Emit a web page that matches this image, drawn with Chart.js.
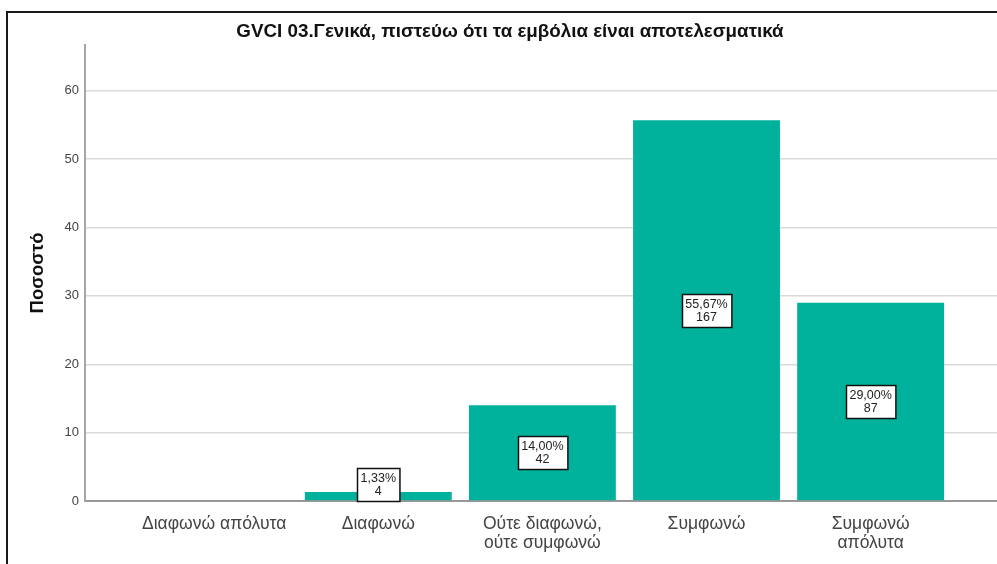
<!DOCTYPE html>
<html>
<head>
<meta charset="utf-8">
<script src="https://cdn.jsdelivr.net/npm/chart.js@4/dist/chart.umd.min.js"></script>
<style>
  html, body { margin: 0; padding: 0; background: #fff; overflow: hidden; }
  #wrap { position: relative; width: 997px; height: 564px; }
  #frame { position: absolute; left: 6px; top: 11px; right: -10px; bottom: -10px;
           border-top: 2px solid #1a1a1a; border-left: 2px solid #1a1a1a; pointer-events: none; }
  canvas { display: block; }
</style>
</head>
<body>
<div id="wrap">
  <canvas id="chart" width="997" height="564"></canvas>
  <div id="frame"></div>
</div>
<script>
// values
var categories = ['Διαφωνώ απόλυτα', 'Διαφωνώ', ['Ούτε διαφωνώ,', 'ούτε συμφωνώ'], 'Συμφωνώ', ['Συμφωνώ', 'απόλυτα']];
var percentages = [0, 1.33, 14.00, 55.67, 29.00];
var counts = [0, 4, 42, 167, 87];
var chartTitle = 'GVCI 03.Γενικά, πιστεύω ότι τα εμβόλια είναι αποτελεσματικά';
var yTitle = 'Ποσοστό';

var font = '"Liberation Sans", Arial, sans-serif';
var barColor = '#00b29c';

// boxed "xx,xx% / n" labels in the middle of each bar
var valueLabels = {
  id: 'valueLabels',
  afterDatasetsDraw: function (chart) {
    var ctx = chart.ctx;
    var meta = chart.getDatasetMeta(0);
    var bottom = chart.scales.y.getPixelForValue(0);
    ctx.save();
    ctx.font = '12.5px ' + font;
    ctx.textAlign = 'center';
    ctx.textBaseline = 'middle';
    meta.data.forEach(function (bar, i) {
      if (!counts[i]) return;
      var line1 = percentages[i].toFixed(2).replace('.', ',') + '%';
      var line2 = String(counts[i]);
      var w = Math.max(ctx.measureText(line1).width, ctx.measureText(line2).width) + 7;
      var h = 33;
      var cy = Math.min((bar.y + bar.base) / 2, bottom - h / 2);
      var x0 = Math.round(bar.x - w / 2) + 0.5;
      var y0 = Math.round(cy - h / 2) + 0.5;
      ctx.fillStyle = '#fff';
      ctx.fillRect(x0, y0, w, h);
      ctx.lineWidth = 1.5;
      ctx.strokeStyle = '#111';
      ctx.strokeRect(x0, y0, w, h);
      ctx.fillStyle = '#222';
      ctx.fillText(line1, bar.x, cy - 6);
      ctx.fillText(line2, bar.x, cy + 7);
    });
    ctx.restore();
  }
};

var ctx = document.getElementById('chart').getContext('2d');
new Chart(ctx, {
  type: 'bar',
  data: {
    datasets: [{
      label: yTitle,
      data: percentages.map(function (v, i) { return { x: i, y: v }; }),
      backgroundColor: barColor,
      borderWidth: 0,
      categoryPercentage: 1,
      barPercentage: 0.895
    }]
  },
  options: {
    responsive: false,
    animation: false,
    devicePixelRatio: 1,
    layout: { padding: { left: 23, right: 0, top: 20.5, bottom: 0 } },
    plugins: {
      legend: { display: false },
      tooltip: { enabled: false },
      title: {
        display: true,
        text: chartTitle,
        color: '#111',
        font: { family: font, size: 18.8, weight: 'bold', lineHeight: 1.2 },
        padding: { top: 0, bottom: 1.9 }
      }
    },
    scales: {
      x: {
        type: 'linear',
        offset: false,
        min: -0.787,
        max: 4.77,
        grid: { display: false },
        border: { display: true, color: '#999', width: 2 },
        afterFit: function (scale) { scale.height = 63; },
        ticks: {
          stepSize: 1,
          includeBounds: false,
          autoSkip: false,
          maxRotation: 0,
          padding: 6,
          color: '#444',
          font: { family: font, size: 17.5, lineHeight: 1.09 },
          callback: function (value) {
            return Number.isInteger(value) && categories[value] !== undefined ? categories[value] : '';
          }
        }
      },
      y: {
        min: 0,
        max: 66.7,
        grid: { color: '#d9d9d9', lineWidth: 1.5, drawTicks: false },
        border: { display: true, color: '#a6a6a6', width: 2 },
        afterFit: function (scale) { scale.width = 62; },
        title: {
          display: true,
          text: yTitle,
          color: '#111',
          font: { family: font, size: 18.5, weight: 'bold' },
          padding: { top: 4, bottom: 0 }
        },
        ticks: {
          stepSize: 10,
          includeBounds: false,
          padding: 6,
          color: '#444',
          font: { family: font, size: 13 }
        }
      }
    }
  },
  plugins: [valueLabels]
});
</script>
</body>
</html>
